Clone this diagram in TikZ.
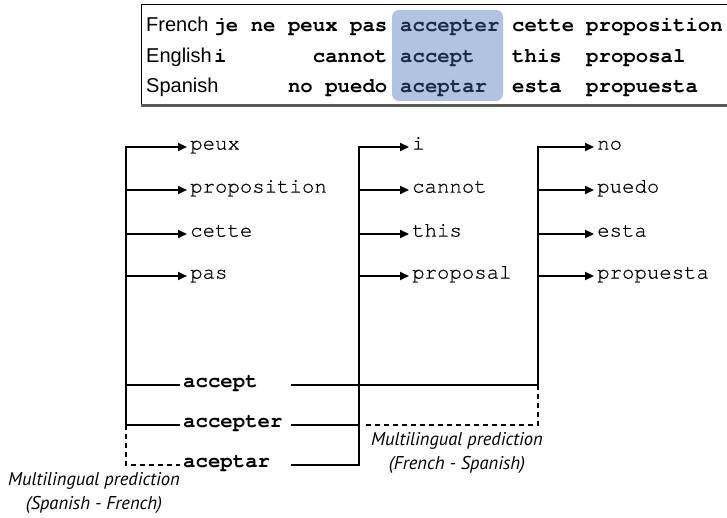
\documentclass[tikz,border=0pt]{standalone}
\usepackage{fontspec}
\setmainfont{Liberation Sans}
\newfontfamily\monofont{TeX Gyre Cursor}
\newfontfamily\monoreg[FakeBold=0.6]{TeX Gyre Cursor}
\newfontfamily\labfont{PT Sans}
\usetikzlibrary{arrows.meta}
\definecolor{hlfill}{RGB}{176,196,226}
\definecolor{hltext}{RGB}{28,42,72}
\begin{document}
\begin{tikzpicture}[x=1pt,y=-1pt,
  wire/.style={line width=2.2pt, line join=miter},
  dashwire/.style={line width=2.2pt, dash pattern=on 5pt off 4pt},
  arr/.style={line width=2.2pt, line join=miter, -{Triangle[length=9pt,width=8pt]}, shorten >=3pt},
  word/.style={font=\monoreg\fontsize{20.7}{24}\selectfont, inner sep=0pt, anchor=mid west},
  bword/.style={font=\monofont\bfseries\fontsize{20.7}{24}\selectfont, inner sep=0pt, anchor=mid west},
  tword/.style={font=\monofont\bfseries\fontsize{20.7}{24}\selectfont, inner sep=0pt, anchor=base west},
  twordr/.style={tword, anchor=base east},
  hword/.style={tword, text=hltext},
  rowlab/.style={font=\fontsize{20}{24}\selectfont, inner sep=0pt, anchor=base west},
  note/.style={font=\labfont\itshape\fontsize{18.5}{24}\selectfont, align=center, inner sep=0pt},
]
\useasboundingbox (0,0) rectangle (727,518);

% ---- table ----
\draw[line width=1pt, black] (141,4.5) -- (735,4.5);
\draw[line width=1pt, black] (141,4.5) -- (141,105.5);
\draw[line width=2.2pt, black!65] (141,105.5) -- (735,105.5);
\node (hl) [fill=hlfill, rounded corners=7pt, minimum width=111pt, minimum height=91pt, inner sep=0pt] at (447.5,55.5) {};

\node (fr) [rowlab] at (146,32) {French};
\node (en) [rowlab] at (146,62.5) {English};
\node (es) [rowlab] at (146,93) {Spanish};

\node (fr1) [twordr] at (387.6,32) {je ne peux pas};
\node (fr2) [hword] at (400,32) {accepter};
\node (fr3) [tword] at (512,32) {cette};
\node (fr4) [tword] at (586,32) {proposition};

\node (en0) [tword] at (214,62.5) {i};
\node (en1) [twordr] at (387.6,62.5) {cannot};
\node (en2) [hword] at (400,62.5) {accept};
\node (en3) [tword] at (512,62.5) {this};
\node (en4) [tword] at (586,62.5) {proposal};

\node (es1) [twordr] at (387.6,93) {no puedo};
\node (es2) [hword] at (400,93) {aceptar};
\node (es3) [tword] at (512,93) {esta};
\node (es4) [tword] at (586,93) {propuesta};

% ---- tree words ----
\node (peux) [word] at (190,147) {peux};
\node (prop) [word] at (190,190) {proposition};
\node (cette) [word] at (190,234) {cette};
\node (pas) [word] at (190,276) {pas};

\node (i) [word] at (412,147) {i};
\node (cannot) [word] at (412,190) {cannot};
\node (this) [word] at (412,234) {this};
\node (proposal) [word] at (412,276) {proposal};

\node (no) [word] at (597,147) {no};
\node (puedo) [word] at (597,190) {puedo};
\node (esta) [word] at (597,234) {esta};
\node (propuesta) [word] at (597,276) {propuesta};

\node (acc1) [bword] at (183,385) {accept};
\node (acc2) [bword] at (183,425) {accepter};
\node (acc3) [bword] at (183,465) {aceptar};

\coordinate (Lt) at (126,147);
\coordinate (Mt) at (359,147);
\coordinate (Rt) at (538,147);
\coordinate (r1) at (291,385);
\coordinate (r2) at (291,425);
\coordinate (r3) at (291,465);
\coordinate (d2) at (366,425);

% left tree
\draw[arr, shorten <=3pt] (acc2.mid west) -- (Lt |- acc2.mid west) -- (Lt) -- (peux.mid west);
\draw[arr] (Lt |- prop.mid west) -- (prop.mid west);
\draw[arr] (Lt |- cette.mid west) -- (cette.mid west);
\draw[arr] (Lt |- pas.mid west) -- (pas.mid west);
\draw[wire, shorten >=3pt] (Lt |- acc1.mid west) -- (acc1.mid west);
\draw[dashwire, shorten >=3pt] (Lt |- acc2.mid west) -- (Lt |- acc3.mid west) -- (acc3.mid west);

% middle tree
\draw[arr] (r3) -- (Mt |- r3) -- (Mt) -- (i.mid west);
\draw[arr] (Mt |- cannot.mid west) -- (cannot.mid west);
\draw[arr] (Mt |- this.mid west) -- (this.mid west);
\draw[arr] (Mt |- proposal.mid west) -- (proposal.mid west);
\draw[wire] (r2) -- (Mt |- r2);

% right tree
\draw[arr] (r1) -- (Rt |- r1) -- (Rt) -- (no.mid west);
\draw[arr] (Rt |- puedo.mid west) -- (puedo.mid west);
\draw[arr] (Rt |- esta.mid west) -- (esta.mid west);
\draw[arr] (Rt |- propuesta.mid west) -- (propuesta.mid west);
\draw[dashwire] (Rt |- r1) -- (Rt |- r2) -- (d2);

% notes
\node (n1) [note] at (457,453) {Multilingual prediction\\(French - Spanish)};
\node (n2) [note] at (94,493) {Multilingual prediction\\(Spanish - French)};
\end{tikzpicture}
\end{document}
